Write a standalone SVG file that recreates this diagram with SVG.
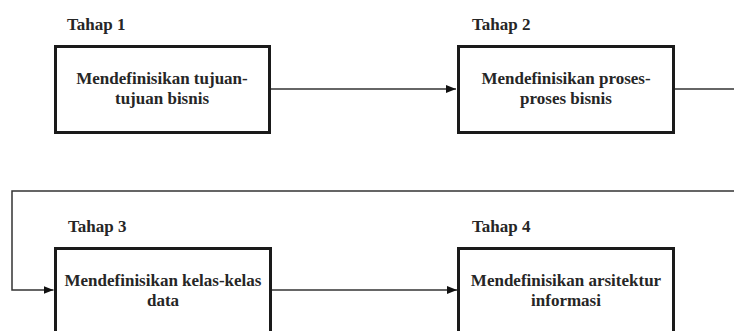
<svg xmlns="http://www.w3.org/2000/svg" width="734" height="331" viewBox="0 0 734 331">
  <style>
    .label { font-family: 'Liberation Serif', 'DejaVu Serif', serif; font-size: 17px; font-weight: bold; fill: #262626; }
    .body { font-family: 'Liberation Serif', 'DejaVu Serif', serif; font-size: 17px; font-weight: bold; fill: #262626; text-anchor: middle; }
    .box { fill: #ffffff; stroke: #1a1a1a; stroke-width: 3; }
    .link { fill: none; stroke: #333333; stroke-width: 1.5; }
  </style>
  <defs>
    <marker id="arrow" viewBox="0 0 10 8" refX="10" refY="4" markerWidth="10" markerHeight="8" markerUnits="userSpaceOnUse" orient="auto">
      <path d="M0,0 L10,4 L0,8 Z" fill="#111111"/>
    </marker>
  </defs>
  <rect width="734" height="331" fill="#ffffff"/>

  <g id="connectors">
    <line class="link" x1="270" y1="89" x2="456" y2="89" marker-end="url(#arrow)"/>
    <polyline class="link" points="673,89 734,89"/>
    <polyline class="link" points="734,191 12,191 12,290 53.5,290" marker-end="url(#arrow)"/>
    <line class="link" x1="272" y1="290" x2="457" y2="290" marker-end="url(#arrow)"/>
  </g>

  <g id="tahap1">
    <text class="label" x="67" y="30">Tahap 1</text>
    <rect class="box" x="55.5" y="46.5" width="214" height="86"/>
    <text class="body" x="162" y="84">Mendefinisikan tujuan-</text>
    <text class="body" x="162" y="104">tujuan bisnis</text>
  </g>

  <g id="tahap2">
    <text class="label" x="472" y="30">Tahap 2</text>
    <rect class="box" x="458.5" y="46.5" width="215" height="86"/>
    <text class="body" x="566" y="84">Mendefinisikan proses-</text>
    <text class="body" x="566" y="104">proses bisnis</text>
  </g>

  <g id="tahap3">
    <text class="label" x="68" y="232">Tahap 3</text>
    <rect class="box" x="55.5" y="248.5" width="215" height="86"/>
    <text class="body" x="163" y="286">Mendefinisikan kelas-kelas</text>
    <text class="body" x="163" y="306">data</text>
  </g>

  <g id="tahap4">
    <text class="label" x="472" y="232">Tahap 4</text>
    <rect class="box" x="458.5" y="248.5" width="215" height="86"/>
    <text class="body" x="566" y="286">Mendefinisikan arsitektur</text>
    <text class="body" x="566" y="306">informasi</text>
  </g>
</svg>
